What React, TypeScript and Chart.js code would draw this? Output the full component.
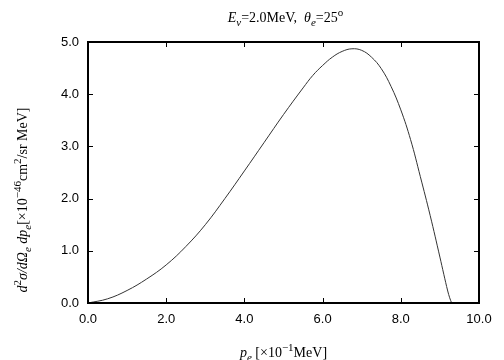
import React, { useEffect, useRef } from "react";
import { Chart, registerables } from "chart.js";

Chart.register(...registerables);

// electron momentum p_e [x10^-1 MeV]
const pE = [0, 0.5, 1.0, 1.5, 2.0, 2.5, 3.0, 3.5, 4.0, 4.5, 5.0, 5.5, 5.75, 6.0, 6.25, 6.5, 6.75, 7.0, 7.25, 7.5, 7.75, 8.0, 8.25, 8.5, 8.75, 9.0, 9.1, 9.2, 9.25, 9.3];
// d^2 sigma / dOmega dp [x10^-46 cm^2/sr MeV]
const dSigma = [0, 0.08, 0.24, 0.46, 0.73, 1.08, 1.5, 2.0, 2.53, 3.07, 3.61, 4.12, 4.36, 4.55, 4.71, 4.82, 4.87, 4.84, 4.71, 4.49, 4.15, 3.7, 3.13, 2.42, 1.68, 0.88, 0.55, 0.23, 0.1, 0];

const xTicks = [0, 2, 4, 6, 8, 10];
const yTicks = [0, 1, 2, 3, 4, 5];

type Seg = { t: string; it?: boolean; sub?: boolean; sup?: boolean };

const SERIF = '"Liberation Serif", "DejaVu Serif", serif';

function segFont(s: Seg, size: number) {
  const sz = s.sub || s.sup ? Math.round(size * 0.75) : size;
  return `${s.it ? "italic " : ""}${sz}px ${SERIF}`;
}

function drawRich(ctx: CanvasRenderingContext2D, segs: Seg[], cx: number, cy: number, size: number) {
  let w = 0;
  for (const s of segs) {
    ctx.font = segFont(s, size);
    w += ctx.measureText(s.t).width;
  }
  let x = cx - w / 2;
  ctx.textBaseline = "alphabetic";
  ctx.textAlign = "left";
  for (const s of segs) {
    ctx.font = segFont(s, size);
    const dy = s.sub ? size * 0.28 : s.sup ? -size * 0.42 : 0;
    ctx.fillText(s.t, x, cy + dy);
    x += ctx.measureText(s.t).width;
  }
}

const titleSegs: Seg[] = [
  { t: "E", it: true },
  { t: "ν", it: true, sub: true },
  { t: "=2.0MeV,  " },
  { t: "θ", it: true },
  { t: "e", it: true, sub: true },
  { t: "=25" },
  { t: "o", sup: true },
];
const xTitleSegs: Seg[] = [
  { t: "p", it: true },
  { t: "e", it: true, sub: true },
  { t: " [×10" },
  { t: "−1", sup: true },
  { t: "MeV]" },
];
const yTitleSegs: Seg[] = [
  { t: "d", it: true },
  { t: "2", sup: true },
  { t: "σ/dΩ", it: true },
  { t: "e", it: true, sub: true },
  { t: " dp", it: true },
  { t: "e", it: true, sub: true },
  { t: "[×10" },
  { t: "−46", sup: true },
  { t: "cm" },
  { t: "2", sup: true },
  { t: "/sr MeV]" },
];

const framePlugin = {
  id: "frame",
  afterDraw(chart: any) {
    const ctx = chart.ctx as CanvasRenderingContext2D;
    const a = chart.chartArea;
    const xs = chart.scales.x;
    const ys = chart.scales.y;
    ctx.save();
    ctx.strokeStyle = "#000";
    ctx.lineWidth = 1;
    const tl = 5;
    ctx.beginPath();
    for (const v of xTicks) {
      const px = Math.round(xs.getPixelForValue(v)) + 0.5;
      ctx.moveTo(px, a.bottom);
      ctx.lineTo(px, a.bottom - tl);
      ctx.moveTo(px, a.top);
      ctx.lineTo(px, a.top + tl);
    }
    for (const v of yTicks) {
      const py = Math.round(ys.getPixelForValue(v)) + 0.5;
      ctx.moveTo(a.left, py);
      ctx.lineTo(a.left + tl, py);
      ctx.moveTo(a.right, py);
      ctx.lineTo(a.right - tl, py);
    }
    ctx.stroke();
    ctx.lineWidth = 2;
    ctx.strokeRect(a.left, a.top, a.right - a.left, a.bottom - a.top);

    ctx.fillStyle = "#000";
    drawRich(ctx, titleSegs, (a.left + a.right) / 2 + 2, 22, 14);
    drawRich(ctx, xTitleSegs, (a.left + a.right) / 2, 357, 14);
    ctx.translate(27, 200);
    ctx.rotate(-Math.PI / 2);
    drawRich(ctx, yTitleSegs, 0, 0, 14);
    ctx.restore();
  },
};

export default function App() {
  const ref = useRef<HTMLCanvasElement | null>(null);
  useEffect(() => {
    if (!ref.current) return;
    const chart = new Chart(ref.current, {
      type: "scatter",
      data: {
        datasets: [
          {
            data: pE.map((x, i) => ({ x, y: dSigma[i] })),
            showLine: true,
            borderColor: "#333",
            borderWidth: 1,
            pointRadius: 0,
            tension: 0.4,
            fill: false,
          },
        ],
      },
      options: {
        animation: false,
        responsive: false,
        devicePixelRatio: 1,
        layout: { padding: { top: 42, right: 25, left: 0, bottom: 0 } },
        plugins: { legend: { display: false }, tooltip: { enabled: false }, title: { display: false } },
        scales: {
          x: {
            type: "linear",
            min: 0,
            max: 10,
            grid: { display: false, drawTicks: false },
            border: { display: false },
            afterFit: (s: any) => {
              s.height = 57;
            },
            afterBuildTicks: (s: any) => {
              s.ticks = xTicks.map((v) => ({ value: v }));
            },
            ticks: {
              padding: 9,
              color: "#000",
              maxRotation: 0,
              font: { family: '"Liberation Sans", Arial, sans-serif', size: 13 },
              callback: (v: any) => Number(v).toFixed(1),
            },
          },
          y: {
            type: "linear",
            min: 0,
            max: 5,
            grid: { display: false, drawTicks: false },
            border: { display: false },
            afterFit: (s: any) => {
              s.width = 88;
            },
            afterBuildTicks: (s: any) => {
              s.ticks = yTicks.map((v) => ({ value: v }));
            },
            ticks: {
              padding: 9,
              color: "#000",
              font: { family: '"Liberation Sans", Arial, sans-serif', size: 13 },
              callback: (v: any) => Number(v).toFixed(1),
            },
          },
        },
      },
      plugins: [framePlugin],
    } as any);
    return () => chart.destroy();
  }, []);
  return (
    <div style={{ position: "fixed", left: 0, top: 0, width: 504, height: 360, background: "#fff" }}>
      <canvas ref={ref} width={504} height={360} style={{ display: "block" }} />
    </div>
  );
}
